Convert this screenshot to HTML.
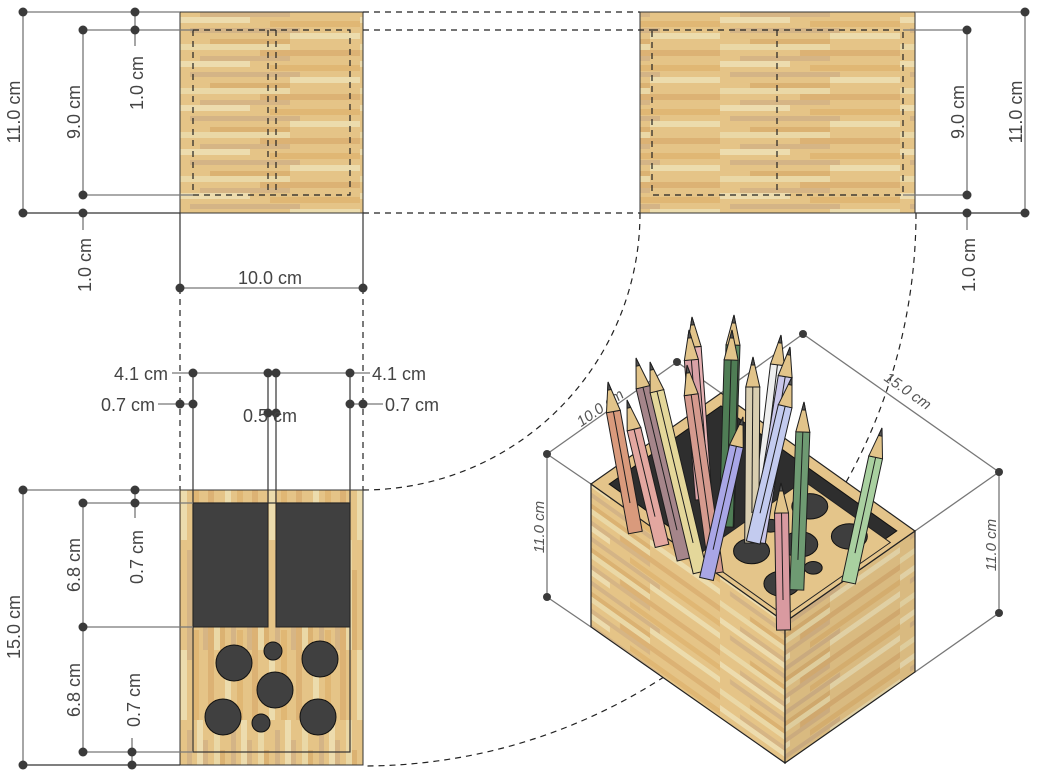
<!DOCTYPE html>
<html><head><meta charset="utf-8"><style>
html,body{margin:0;padding:0;background:#fff;}
svg{display:block;font-family:"Liberation Sans",sans-serif;}
.t{font-size:18px;fill:#444;}
.it{font-size:15px;fill:#555;font-style:italic;}
.dim{stroke:#777;stroke-width:1.3;fill:none;}
.dk{stroke:#333;stroke-width:1.2;fill:none;}
.ds{stroke:#222;stroke-width:1.2;fill:none;stroke-dasharray:6 5;}
.dot{fill:#3a3a3a;}
.hole{fill:#3e3e3e;stroke:#111;stroke-width:1;vector-effect:non-scaling-stroke;}
</style></head><body>
<svg width="1040" height="776" viewBox="0 0 1040 776" xmlns="http://www.w3.org/2000/svg">
<defs>
<g id="stripesH">
<rect width="180" height="44" fill="#e5c487"/>
<rect x="0" y="0" width="110" height="6" fill="#ead8a6"/>
<rect x="80" y="6" width="100" height="6" fill="#dcb274"/>
<rect x="20" y="12" width="90" height="5" fill="#d6b585"/>
<rect x="0" y="17" width="70" height="6" fill="#eddcae"/>
<rect x="90" y="21" width="90" height="6" fill="#e0b774"/>
<rect x="10" y="28" width="110" height="5" fill="#d4b486"/>
<rect x="110" y="33" width="70" height="6" fill="#ecdcad"/>
<rect x="30" y="39" width="80" height="5" fill="#dbb272"/>
</g>
<pattern id="wH" width="180" height="44" patternUnits="userSpaceOnUse"><use href="#stripesH"/></pattern>
<pattern id="wV" width="180" height="44" patternUnits="userSpaceOnUse" patternTransform="rotate(90)"><use href="#stripesH"/></pattern>
<pattern id="wL" width="180" height="44" patternUnits="userSpaceOnUse" patternTransform="matrix(1,0.711,0,1,0,0)"><use href="#stripesH"/></pattern>
<pattern id="wR" width="180" height="44" patternUnits="userSpaceOnUse" patternTransform="matrix(1,-0.7,0,1,0,0)"><use href="#stripesH"/></pattern>
<pattern id="wT" width="180" height="44" patternUnits="userSpaceOnUse" patternTransform="matrix(1,0.711,0,1,0,0)"><use href="#stripesH"/></pattern>
</defs>

<!-- top-left view -->
<rect x="180" y="12" width="183" height="201" fill="url(#wH)" stroke="#333" stroke-width="1"/>
<rect x="193" y="30" width="157" height="165" class="ds"/>
<line x1="268" y1="30" x2="268" y2="195" class="ds"/>
<line x1="276" y1="30" x2="276" y2="195" class="ds"/>
<!-- top-right view -->
<rect x="640" y="12" width="275" height="201" fill="url(#wH)" stroke="#333" stroke-width="1"/>
<rect x="652" y="30" width="251" height="165" class="ds"/>
<line x1="777" y1="30" x2="777" y2="195" class="ds"/>

<!-- connector dashed -->
<line x1="363" y1="12" x2="640" y2="12" class="ds"/>
<line x1="363" y1="30" x2="652" y2="30" class="ds"/>
<line x1="363" y1="213" x2="640" y2="213" class="ds"/>
<path d="M640,213 A277,277 0 0 1 363,490" class="ds"/>
<path d="M916,213 A553,553 0 0 1 363,766" class="ds"/>
<line x1="180" y1="213" x2="180" y2="288" class="dk" stroke-width="0.8"/>
<line x1="363" y1="213" x2="363" y2="288" class="dk" stroke-width="0.8"/>
<line x1="180" y1="288" x2="180" y2="490" class="ds"/>
<line x1="363" y1="288" x2="363" y2="490" class="ds"/>

<!-- bottom view -->
<rect x="180" y="490" width="183" height="275" fill="url(#wV)" stroke="#333" stroke-width="1"/>
<rect x="193" y="503" width="157" height="249" class="dk" stroke-width="1"/>
<rect x="193" y="503" width="75" height="124" fill="#404040" stroke="#222"/>
<rect x="276" y="503" width="74" height="124" fill="#404040" stroke="#222"/>
<g fill="#404040" stroke="#111" stroke-width="1">
<circle cx="234" cy="663" r="18"/><circle cx="273" cy="651" r="9"/><circle cx="320" cy="659" r="18"/>
<circle cx="275" cy="690" r="18"/><circle cx="223" cy="717" r="18"/><circle cx="261" cy="723" r="9"/><circle cx="318" cy="717" r="18"/>
</g>
<g class="dk" stroke-width="1">
<line x1="193" y1="373" x2="193" y2="503"/><line x1="268" y1="373" x2="268" y2="503"/>
<line x1="276" y1="373" x2="276" y2="503"/><line x1="350" y1="373" x2="350" y2="503"/>
</g>

<!-- dims top-left -->
<g class="dim">
<line x1="23" y1="12" x2="180" y2="12"/><line x1="83" y1="30" x2="193" y2="30"/>
<line x1="83" y1="195" x2="193" y2="195"/><line x1="23" y1="213" x2="180" y2="213" stroke="#333"/>
<line x1="23" y1="12" x2="23" y2="213"/><line x1="83" y1="30" x2="83" y2="195"/>
<line x1="135" y1="12" x2="135" y2="46"/><line x1="83" y1="213" x2="83" y2="230"/>
<line x1="180" y1="288" x2="363" y2="288"/>
<line x1="172" y1="373" x2="268" y2="373"/><line x1="276" y1="373" x2="370" y2="373"/>
<line x1="158" y1="404" x2="193" y2="404"/><line x1="350" y1="404" x2="383" y2="404"/>
<line x1="268" y1="413" x2="276" y2="413"/>
</g>
<g class="dot">
<circle cx="23" cy="12" r="4.5"/><circle cx="135" cy="12" r="4.5"/><circle cx="83" cy="30" r="4.5"/><circle cx="135" cy="30" r="4.5"/>
<circle cx="83" cy="195" r="4.5"/><circle cx="23" cy="213" r="4.5"/><circle cx="83" cy="213" r="4.5"/>
<circle cx="180" cy="288" r="4.5"/><circle cx="363" cy="288" r="4.5"/>
<circle cx="193" cy="373" r="4.5"/><circle cx="268" cy="373" r="4.5"/><circle cx="276" cy="373" r="4.5"/><circle cx="350" cy="373" r="4.5"/>
<circle cx="180" cy="404" r="4.5"/><circle cx="193" cy="404" r="4.5"/><circle cx="350" cy="404" r="4.5"/><circle cx="363" cy="404" r="4.5"/>
<circle cx="268" cy="413" r="4.5"/><circle cx="276" cy="413" r="4.5"/>
</g>
<text class="t" transform="translate(20,112) rotate(-90)" text-anchor="middle">11.0 cm</text>
<text class="t" transform="translate(80,112) rotate(-90)" text-anchor="middle">9.0 cm</text>
<text class="t" transform="translate(143,83) rotate(-90)" text-anchor="middle">1.0 cm</text>
<text class="t" transform="translate(91,265) rotate(-90)" text-anchor="middle">1.0 cm</text>
<text class="t" x="270" y="284" text-anchor="middle">10.0 cm</text>
<text class="t" x="168" y="380" text-anchor="end">4.1 cm</text>
<text class="t" x="372" y="380">4.1 cm</text>
<text class="t" x="155" y="411" text-anchor="end">0.7 cm</text>
<text class="t" x="385" y="411">0.7 cm</text>
<text class="t" x="270" y="422" text-anchor="middle">0.5 cm</text>

<!-- dims top-right -->
<g class="dim">
<line x1="915" y1="12" x2="1025" y2="12"/><line x1="903" y1="30" x2="967" y2="30"/>
<line x1="903" y1="195" x2="967" y2="195"/><line x1="915" y1="213" x2="1025" y2="213" stroke="#333"/>
<line x1="1025" y1="12" x2="1025" y2="213"/><line x1="967" y1="30" x2="967" y2="195"/>
<line x1="967" y1="213" x2="967" y2="230"/>
</g>
<g class="dot">
<circle cx="1025" cy="12" r="4.5"/><circle cx="1025" cy="213" r="4.5"/><circle cx="967" cy="30" r="4.5"/>
<circle cx="967" cy="195" r="4.5"/><circle cx="967" cy="213" r="4.5"/>
</g>
<text class="t" transform="translate(1022,112) rotate(-90)" text-anchor="middle">11.0 cm</text>
<text class="t" transform="translate(964,112) rotate(-90)" text-anchor="middle">9.0 cm</text>
<text class="t" transform="translate(975,265) rotate(-90)" text-anchor="middle">1.0 cm</text>

<!-- dims bottom-left -->
<g class="dim">
<line x1="23" y1="490" x2="180" y2="490"/><line x1="83" y1="503" x2="193" y2="503"/>
<line x1="83" y1="627" x2="193" y2="627"/><line x1="83" y1="752" x2="193" y2="752"/>
<line x1="23" y1="765" x2="180" y2="765" stroke="#333"/>
<line x1="23" y1="490" x2="23" y2="765"/><line x1="83" y1="503" x2="83" y2="752"/>
<line x1="135" y1="490" x2="135" y2="518"/><line x1="132" y1="738" x2="132" y2="765"/>
</g>
<g class="dot">
<circle cx="23" cy="490" r="4.5"/><circle cx="135" cy="490" r="4.5"/><circle cx="83" cy="503" r="4.5"/><circle cx="135" cy="503" r="4.5"/>
<circle cx="83" cy="627" r="4.5"/><circle cx="83" cy="752" r="4.5"/><circle cx="132" cy="752" r="4.5"/>
<circle cx="23" cy="765" r="4.5"/><circle cx="132" cy="765" r="4.5"/>
</g>
<text class="t" transform="translate(20,627) rotate(-90)" text-anchor="middle">15.0 cm</text>
<text class="t" transform="translate(80,565) rotate(-90)" text-anchor="middle">6.8 cm</text>
<text class="t" transform="translate(80,690) rotate(-90)" text-anchor="middle">6.8 cm</text>
<text class="t" transform="translate(143,557) rotate(-90)" text-anchor="middle">0.7 cm</text>
<text class="t" transform="translate(140,700) rotate(-90)" text-anchor="middle">0.7 cm</text>

<!-- iso dims -->
<g class="dim" stroke-width="1">
<line x1="547" y1="454" x2="591" y2="484"/><line x1="547" y1="597" x2="591" y2="627"/>
<line x1="547" y1="454" x2="547" y2="597"/>
<line x1="547" y1="454" x2="677" y2="362"/><line x1="677" y1="362" x2="721" y2="393"/>
<line x1="803" y1="334" x2="999" y2="472"/><line x1="803" y1="334" x2="721" y2="393"/>
<line x1="999" y1="472" x2="999" y2="613"/>
<line x1="999" y1="472" x2="915" y2="531"/><line x1="999" y1="613" x2="915" y2="672"/>
</g>
<g class="dot">
<circle cx="547" cy="454" r="4"/><circle cx="547" cy="597" r="4"/><circle cx="677" cy="362" r="4"/>
<circle cx="803" cy="334" r="4"/><circle cx="999" cy="472" r="4"/><circle cx="999" cy="613" r="4"/>
</g>
<text class="it" transform="translate(544,527) rotate(-90)" text-anchor="middle">11.0 cm</text>
<text class="it" transform="translate(996,545) rotate(-90)" text-anchor="middle">11.0 cm</text>
<text class="it" transform="translate(603,412) rotate(-35)" text-anchor="middle">10.0 cm</text>
<text class="it" transform="translate(905,395) rotate(35)" text-anchor="middle">15.0 cm</text>

<!-- iso box -->
<polygon points="591,484 785,622 785,763 591,627" fill="url(#wL)" stroke="#222" stroke-width="1.2"/>
<polygon points="785,622 915,531 915,672 785,763" fill="url(#wR)" stroke="#222" stroke-width="1.2"/>
<polygon points="785,622 915,531 915,672 785,763" fill="#000" opacity="0.05"/>
<g transform="matrix(12.93,9.2,13,-9.1,591,484)">
<polygon points="0,0 15,0 15,10 0,10" fill="#e4c48a" stroke="#222" stroke-width="1.2" vector-effect="non-scaling-stroke"/>
<polygon points="0.7,0.7 14.3,0.7 14.3,9.3 0.7,9.3" fill="#2e2e2e" stroke="#111" stroke-width="1" vector-effect="non-scaling-stroke"/>
</g>
<g transform="translate(0,7)">
<g transform="matrix(12.93,9.2,13,-9.1,591,484)">
<polygon points="7.6,0.7 14.3,0.7 14.3,8.8 7.6,8.8" fill="#e4c58a" stroke="#222" stroke-width="1" vector-effect="non-scaling-stroke"/>
<circle class="hole" cx="9.45" cy="2.95" r="0.98"/><circle class="hole" cx="8.8" cy="5.08" r="0.49"/>
<circle class="hole" cx="9.23" cy="7.65" r="0.98"/><circle class="hole" cx="10.93" cy="5.19" r="0.98"/>
<circle class="hole" cx="12.4" cy="2.35" r="0.98"/><circle class="hole" cx="12.73" cy="4.43" r="0.49"/>
<circle class="hole" cx="12.4" cy="7.54" r="0.98"/>
</g>
</g>

<!-- pencils -->
<g stroke="#1e1e1e" stroke-width="1">
<g transform="translate(692,317) rotate(-4.1)"><rect x="-7" y="30" width="14" height="153" fill="#e7b2b4"/><line x1="0" y1="30" x2="0" y2="153"/><polygon points="0,0 -7,30 7,30" fill="#e2c48a"/><polygon points="0,0 -1.8,8 1.8,8" fill="#555"/></g>
<g transform="translate(689,330) rotate(-4.5)"><rect x="-7" y="30" width="14" height="140" fill="#d9a1a6"/><line x1="0" y1="30" x2="0" y2="140"/><polygon points="0,0 -7,30 7,30" fill="#e2c48a"/><polygon points="0,0 -1.8,8 1.8,8" fill="#555"/></g>
<g transform="translate(734,315) rotate(1.9)"><rect x="-7" y="30" width="14" height="182" fill="#5e8a62"/><line x1="0" y1="30" x2="0" y2="182"/><polygon points="0,0 -7,30 7,30" fill="#e2c48a"/><polygon points="0,0 -1.8,8 1.8,8" fill="#555"/></g>
<g transform="translate(732,330) rotate(1.7)"><rect x="-7" y="30" width="14" height="167" fill="#4f7d55"/><line x1="0" y1="30" x2="0" y2="167"/><polygon points="0,0 -7,30 7,30" fill="#e2c48a"/><polygon points="0,0 -1.8,8 1.8,8" fill="#555"/></g>
<g transform="translate(781,335) rotate(6.8)"><rect x="-7" y="30" width="14" height="176" fill="#eeeeee"/><line x1="0" y1="30" x2="0" y2="176"/><polygon points="0,0 -7,30 7,30" fill="#e2c48a"/><polygon points="0,0 -1.8,8 1.8,8" fill="#555"/></g>
<g transform="translate(790,347) rotate(9.2)"><rect x="-7" y="30" width="14" height="168" fill="#c9c6ea"/><line x1="0" y1="30" x2="0" y2="168"/><polygon points="0,0 -7,30 7,30" fill="#e2c48a"/><polygon points="0,0 -1.8,8 1.8,8" fill="#555"/></g>
<g transform="translate(753,357) rotate(0.4)"><rect x="-7" y="30" width="14" height="156" fill="#d9ceb0"/><line x1="0" y1="30" x2="0" y2="156"/><polygon points="0,0 -7,30 7,30" fill="#e2c48a"/><polygon points="0,0 -1.8,8 1.8,8" fill="#555"/></g>
<g transform="translate(792,377) rotate(13.2)"><rect x="-7" y="30" width="14" height="140" fill="#c3cbef"/><line x1="0" y1="30" x2="0" y2="140"/><polygon points="0,0 -7,30 7,30" fill="#e2c48a"/><polygon points="0,0 -1.8,8 1.8,8" fill="#555"/></g>
<g transform="translate(608,382) rotate(-10.3)"><rect x="-7" y="30" width="14" height="123" fill="#d99a7c"/><line x1="0" y1="30" x2="0" y2="123"/><polygon points="0,0 -7,30 7,30" fill="#e2c48a"/><polygon points="0,0 -1.8,8 1.8,8" fill="#555"/></g>
<g transform="translate(636,358) rotate(-13.4)"><rect x="-7" y="30" width="14" height="177" fill="#a5858a"/><line x1="0" y1="30" x2="0" y2="177"/><polygon points="0,0 -7,30 7,30" fill="#e2c48a"/><polygon points="0,0 -1.8,8 1.8,8" fill="#555"/></g>
<g transform="translate(627,400) rotate(-13.5)"><rect x="-7" y="30" width="14" height="120" fill="#e3a7a0"/><line x1="0" y1="30" x2="0" y2="120"/><polygon points="0,0 -7,30 7,30" fill="#e2c48a"/><polygon points="0,0 -1.8,8 1.8,8" fill="#555"/></g>
<g transform="translate(650,362) rotate(-13.4)"><rect x="-7" y="30" width="14" height="186" fill="#e4d79a"/><line x1="0" y1="30" x2="0" y2="186"/><polygon points="0,0 -7,30 7,30" fill="#e2c48a"/><polygon points="0,0 -1.8,8 1.8,8" fill="#555"/></g>
<g transform="translate(687,365) rotate(-8)"><rect x="-7" y="30" width="14" height="180" fill="#d59a8e"/><line x1="0" y1="30" x2="0" y2="180"/><polygon points="0,0 -7,30 7,30" fill="#e2c48a"/><polygon points="0,0 -1.8,8 1.8,8" fill="#555"/></g>
<g transform="translate(743,417) rotate(12.7)"><rect x="-7" y="30" width="14" height="136" fill="#a9a6e6"/><line x1="0" y1="30" x2="0" y2="136"/><polygon points="0,0 -7,30 7,30" fill="#e2c48a"/><polygon points="0,0 -1.8,8 1.8,8" fill="#555"/></g>
<g transform="translate(804,402) rotate(2.2)"><rect x="-7" y="30" width="14" height="158" fill="#6e9a72"/><line x1="0" y1="30" x2="0" y2="158"/><polygon points="0,0 -7,30 7,30" fill="#e2c48a"/><polygon points="0,0 -1.8,8 1.8,8" fill="#555"/></g>
<g transform="translate(882,428) rotate(12.2)"><rect x="-7" y="30" width="14" height="128" fill="#a9d0a0"/><line x1="0" y1="30" x2="0" y2="128"/><polygon points="0,0 -7,30 7,30" fill="#e2c48a"/><polygon points="0,0 -1.8,8 1.8,8" fill="#555"/></g>
<g transform="translate(781,483) rotate(-1)"><rect x="-7" y="30" width="14" height="117" fill="#d99aa0"/><line x1="0" y1="30" x2="0" y2="117"/><polygon points="0,0 -7,30 7,30" fill="#e2c48a"/><polygon points="0,0 -1.8,8 1.8,8" fill="#555"/></g>
</g>
</svg>
</body></html>
